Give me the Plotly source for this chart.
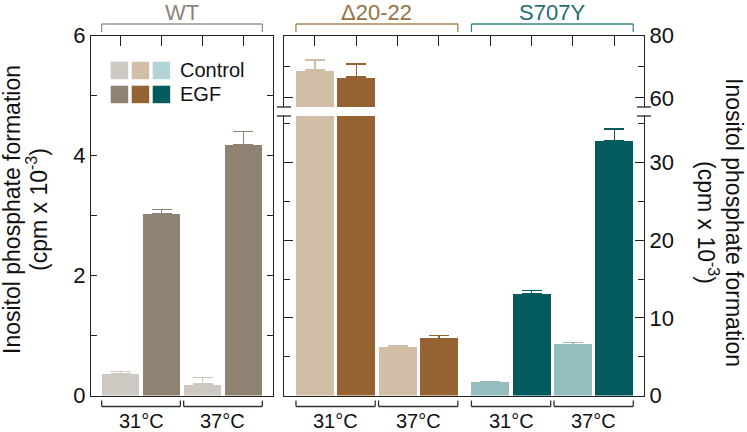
import plotly.graph_objects as go

W, H = 747, 432
def px(x): return x / W
def py(y): return 1 - y / H

FONT = "Liberation Sans, Arial, Helvetica, sans-serif"

# ---------------- data ----------------
temps = ["31°C", "37°C"]
treatments = ["Control", "EGF"]
groups = ["WT", "Δ20-22", "S707Y"]

wt_control = [0.37, 0.19]
wt_control_err = [0.03, 0.11]
wt_egf = [3.03, 4.18]
wt_egf_err = [0.07, 0.22]

d_control = [68.9, 6.3]
d_control_err = [3.2, 0.1]
d_egf = [66.7, 7.35]
d_egf_err = [4.1, 0.35]

s_control = [1.7, 6.6]
s_control_err = [0.1, 0.2]
s_egf = [13.1, 32.8]
s_egf_err = [0.4, 1.5]

left_major = [0, 2, 4, 6]
left_minor = [1, 3, 5]
right_low_major = [0, 10, 20, 30]
right_low_minor = [5, 15, 25, 35]
right_up_major = [60, 80]
right_up_minor = [70]

# ---------------- styles ----------------
col = {
    "WT": ("#cdc8c1", "#8f8273"),
    "Δ20-22": ("#d2bea6", "#946331"),
    "S707Y": ("#94bdc0", "#045b5e"),
}
legend_cols = [["#cdc8c1", "#d2bea6", "#b3d3d6"], ["#8f8273", "#946331", "#045b5e"]]
group_label_col = {"WT": "#8d837a", "Δ20-22": "#98703f", "S707Y": "#1f6e72"}
bracket_col = {"WT": "#9d948b", "Δ20-22": "#a8834f", "S707Y": "#3d8587"}
BW = 0.92
AX = "#222222"

fig = go.Figure()

def add_bars(xs, vals, errs, color, xa, ya):
    fig.add_trace(go.Bar(
        x=xs, y=vals, width=BW, xaxis=xa, yaxis=ya, showlegend=False,
        marker=dict(color=color, line=dict(width=0)),
        error_y=dict(type="data", array=errs, arrayminus=[0] * len(errs), symmetric=False,
                     color=color, thickness=1.5, width=10),
        hoverinfo="y"))

# positions: within each panel, order 31 control, 31 EGF, 37 control, 37 EGF
def positions(offset):
    ctrl = [offset + 2 * i for i in range(len(temps))]
    egf = [offset + 2 * i + 1 for i in range(len(temps))]
    return ctrl, egf

wt_c, wt_e = positions(0)
d_c, d_e = positions(0)
s_c, s_e = positions(4.25)

add_bars(wt_c, wt_control, wt_control_err, col["WT"][0], "x", "y")
add_bars(wt_e, wt_egf, wt_egf_err, col["WT"][1], "x", "y")
for ya, xa in (("y2", "x2"), ("y3", "x3")):
    add_bars(d_c, d_control, d_control_err, col["Δ20-22"][0], xa, ya)
    add_bars(d_e, d_egf, d_egf_err, col["Δ20-22"][1], xa, ya)
    add_bars(s_c, s_control, s_control_err, col["S707Y"][0], xa, ya)
    add_bars(s_e, s_egf, s_egf_err, col["S707Y"][1], xa, ya)

common = dict(showgrid=False, zeroline=False, linecolor=AX, linewidth=1.3,
              tickcolor=AX, tickwidth=1.3, fixedrange=True, automargin=False,
              tickfont=dict(family=FONT, size=22, color="#111"))
minor_style = dict(ticks="inside", ticklen=6, tickcolor=AX, tickwidth=1.3, showgrid=False)

xr_left = [-0.72, 3.72]
xr_right = [-0.75, 7.97]
top_right_ticks = d_c + d_e + s_c + s_e

fig.update_layout(
    width=W, height=H, margin=dict(l=0, r=0, t=0, b=0, pad=0, autoexpand=False),
    paper_bgcolor="white", plot_bgcolor="rgba(0,0,0,0)", bargap=0, showlegend=False,
    font=dict(family=FONT, color="#111"),
    xaxis=dict(domain=[px(91), px(273)], range=xr_left, anchor="y", side="top",
               showline=True, mirror=True, ticks="inside", ticklen=10,
               tickvals=wt_c + wt_e, showticklabels=False, **common),
    yaxis=dict(domain=[py(395.5), py(35.5)], range=[0, 6], anchor="x",
               showline=True, mirror="ticks", ticks="inside", ticklen=6,
               tickvals=left_major, minor=dict(tickvals=left_minor, **minor_style), **common),
    xaxis2=dict(domain=[px(284), px(644)], range=xr_right, anchor="y2",
                showline=True, ticks="", showticklabels=False, **common),
    yaxis2=dict(domain=[py(395.5), py(116)], range=[0, 36], anchor="x2", side="right",
                showline=True, mirror="ticks", ticks="inside", ticklen=9,
                tickvals=right_low_major, minor=dict(tickvals=right_low_minor, **minor_style),
                **common),
    xaxis3=dict(domain=[px(284), px(644)], range=xr_right, anchor="y3", side="top",
                showline=True, ticks="inside", ticklen=10, tickvals=top_right_ticks,
                showticklabels=False, **common),
    yaxis3=dict(domain=[py(107), py(35.5)], range=[57.1, 80], anchor="x3", side="right",
                showline=True, mirror="ticks", ticks="inside", ticklen=9,
                tickvals=right_up_major, minor=dict(tickvals=right_up_minor, **minor_style),
                **common),
)

shapes = []
annos = []

# axis break marks
for xc in (284, 644):
    for yb in (107, 116):
        shapes.append(dict(type="line", xref="paper", yref="paper",
                           x0=px(xc - 7), x1=px(xc + 7), y0=py(yb), y1=py(yb),
                           line=dict(color=AX, width=1.3)))

# bottom temperature brackets and labels
def bottom_bracket(xref, c0, c1):
    x0, x1 = c0 - BW / 2, c1 + BW / 2
    yb, yt = py(406.5), py(400.5)
    for a, b, c, d in ((x0, yt, x0, yb), (x0, yb, x1, yb), (x1, yb, x1, yt)):
        shapes.append(dict(type="line", xref=xref, yref="paper", x0=a, y0=b, x1=c, y1=d,
                           line=dict(color="#333", width=1.3)))

for xref, ctrl, egf in (("x", wt_c, wt_e), ("x2", d_c, d_e), ("x2", s_c, s_e)):
    for i, t in enumerate(temps):
        bottom_bracket(xref, ctrl[i], egf[i])
        annos.append(dict(xref=xref, yref="paper", x=(ctrl[i] + egf[i]) / 2, y=py(421),
                          text=t, showarrow=False, yanchor="middle",
                          font=dict(family=FONT, size=20, color="#111")))

# top group brackets and labels
def top_bracket(xref, c0, c1, color):
    x0, x1 = c0 - BW / 2, c1 + BW / 2
    yb, yt = py(32), py(24)
    for a, b, c, d in ((x0, yb, x0, yt), (x0, yt, x1, yt), (x1, yt, x1, yb)):
        shapes.append(dict(type="line", xref=xref, yref="paper", x0=a, y0=b, x1=c, y1=d,
                           line=dict(color=color, width=1.3)))

for g, xref, ctrl, egf in (("WT", "x", wt_c, wt_e), ("Δ20-22", "x2", d_c, d_e),
                           ("S707Y", "x2", s_c, s_e)):
    top_bracket(xref, ctrl[0], egf[-1], bracket_col[g])
    annos.append(dict(xref=xref, yref="paper", x=(ctrl[0] + egf[-1]) / 2, y=py(12.5),
                      text=g, showarrow=False, yanchor="middle",
                      font=dict(family=FONT, size=22, color=group_label_col[g])))

# legend squares + labels
sq, gap = 17.5, 3.5
for r, tr in enumerate(treatments):
    y0 = 61.7 + r * (sq + 6.5)
    for c in range(3):
        x0 = 110.7 + c * (sq + gap)
        shapes.append(dict(type="rect", xref="paper", yref="paper",
                           x0=px(x0), x1=px(x0 + sq), y0=py(y0), y1=py(y0 + sq),
                           fillcolor=legend_cols[r][c], line=dict(width=0)))
    annos.append(dict(xref="paper", yref="paper", x=px(178), y=py(y0 + sq / 2),
                      text=tr, showarrow=False, xanchor="left", yanchor="middle",
                      font=dict(family=FONT, size=20, color="#111")))

# axis titles
title_font = dict(family=FONT, size=23, color="#111")
annos.append(dict(xref="paper", yref="paper", x=px(12), y=py(210), textangle=-90,
                  text="Inositol phosphate formation", showarrow=False,
                  xanchor="center", yanchor="middle", font=title_font))
annos.append(dict(xref="paper", yref="paper", x=px(37), y=py(210), textangle=-90,
                  text="(cpm x 10<sup>-3</sup>)", showarrow=False,
                  xanchor="center", yanchor="middle", font=title_font))
annos.append(dict(xref="paper", yref="paper", x=px(734), y=py(222), textangle=90,
                  text="Inositol phosphate formation", showarrow=False,
                  xanchor="center", yanchor="middle", font=title_font))
annos.append(dict(xref="paper", yref="paper", x=px(708), y=py(222), textangle=90,
                  text="(cpm x 10<sup>-3</sup>)", showarrow=False,
                  xanchor="center", yanchor="middle", font=title_font))

fig.update_layout(shapes=shapes, annotations=annos)
fig.write_html("out.html", post_script="document.body.style.margin='0';",
               config={"displayModeBar": False})
